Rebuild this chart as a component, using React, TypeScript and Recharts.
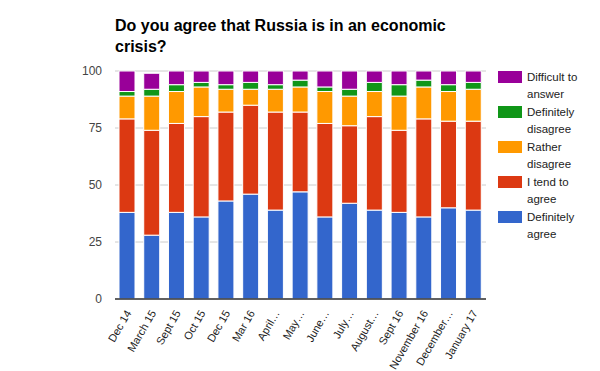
import React from "react";
import { BarChart, Bar, XAxis, YAxis, CartesianGrid } from "recharts";

const categories = ["Dec 14", "March 15", "Sept 15", "Oct 15", "Dec 15", "Mar 16", "April…", "May…", "June…", "July…", "August…", "Sept 16", "November 16", "December…", "January 17"];
const definitelyAgree = [38, 28, 38, 36, 43, 46, 39, 47, 36, 42, 39, 38, 36, 40, 39];
const tendToAgree = [41, 46, 39, 44, 39, 39, 43, 35, 41, 34, 41, 36, 43, 38, 39];
const ratherDisagree = [10, 15, 14, 13, 10, 7, 10, 11, 14, 13, 11, 15, 14, 13, 14];
const definitelyDisagree = [2, 3, 3, 2, 2, 3, 2, 3, 2, 3, 4, 5, 3, 3, 3];
const difficultToAnswer = [9, 7, 6, 5, 6, 5, 6, 4, 7, 8, 5, 6, 4, 6, 5];
const yTicks = [0, 25, 50, 75, 100];

const series = [
  { key: "definitelyAgree", name: "Definitely agree", color: "#3366cc", values: definitelyAgree },
  { key: "tendToAgree", name: "I tend to agree", color: "#dc3912", values: tendToAgree },
  { key: "ratherDisagree", name: "Rather disagree", color: "#ff9900", values: ratherDisagree },
  { key: "definitelyDisagree", name: "Definitely disagree", color: "#109618", values: definitelyDisagree },
  { key: "difficultToAnswer", name: "Difficult to answer", color: "#990099", values: difficultToAnswer },
];

const data = categories.map((c, i) => {
  const row: Record<string, string | number> = { category: c };
  series.forEach((s) => {
    row[s.key] = s.values[i];
  });
  return row;
});

const FONT = "Arial, 'Liberation Sans', sans-serif";

const XTick = (props: any) => {
  const { x, y, payload } = props;
  return (
    <g transform={`translate(${x + 1},${y + 4})`}>
      <text x={0} y={0} dy="0.35em" textAnchor="end" transform="rotate(-60)" fontSize={11} fill="#222" fontFamily={FONT}>
        {payload.value}
      </text>
    </g>
  );
};

export default function App() {
  return (
    <div style={{ position: "absolute", left: 0, top: 0, width: 600, height: 371, background: "#fff", fontFamily: FONT }}>
      <div style={{ position: "absolute", left: 115, top: 15, width: 360, fontSize: 16, fontWeight: "bold", lineHeight: "21px", color: "#000" }}>
        Do you agree that Russia is in an economic crisis?
      </div>
      <BarChart width={600} height={371} data={data} margin={{ top: 71, right: 114, bottom: 0, left: 0 }} barSize={16}>
        <CartesianGrid vertical={false} stroke="#cccccc" />
        <XAxis dataKey="category" height={72} interval={0} tickLine={false} axisLine={{ stroke: "#333", strokeWidth: 1.5 }} tick={<XTick />} />
        <YAxis width={115} domain={[0, 100]} ticks={yTicks} tickLine={false} axisLine={false} tickMargin={7} tick={{ fontSize: 12, fill: "#444", fontFamily: FONT }} />
        {series.map((s) => (
          <Bar key={s.key} dataKey={s.key} name={s.name} stackId="a" fill={s.color} stroke="#ffffff" strokeWidth={1} isAnimationActive={false} />
        ))}
      </BarChart>
      <div style={{ position: "absolute", left: 498, top: 69 }}>
        {[...series].reverse().map((s, i) => (
          <div key={s.key} style={{ position: "absolute", left: 0, top: i * 35, width: 100 }}>
            <div style={{ position: "absolute", left: 0, top: 2, width: 24, height: 12, background: s.color }} />
            <div style={{ position: "absolute", left: 29, top: 0, width: 68, fontSize: 11.5, lineHeight: "17px", color: "#222" }}>{s.name}</div>
          </div>
        ))}
      </div>
    </div>
  );
}
